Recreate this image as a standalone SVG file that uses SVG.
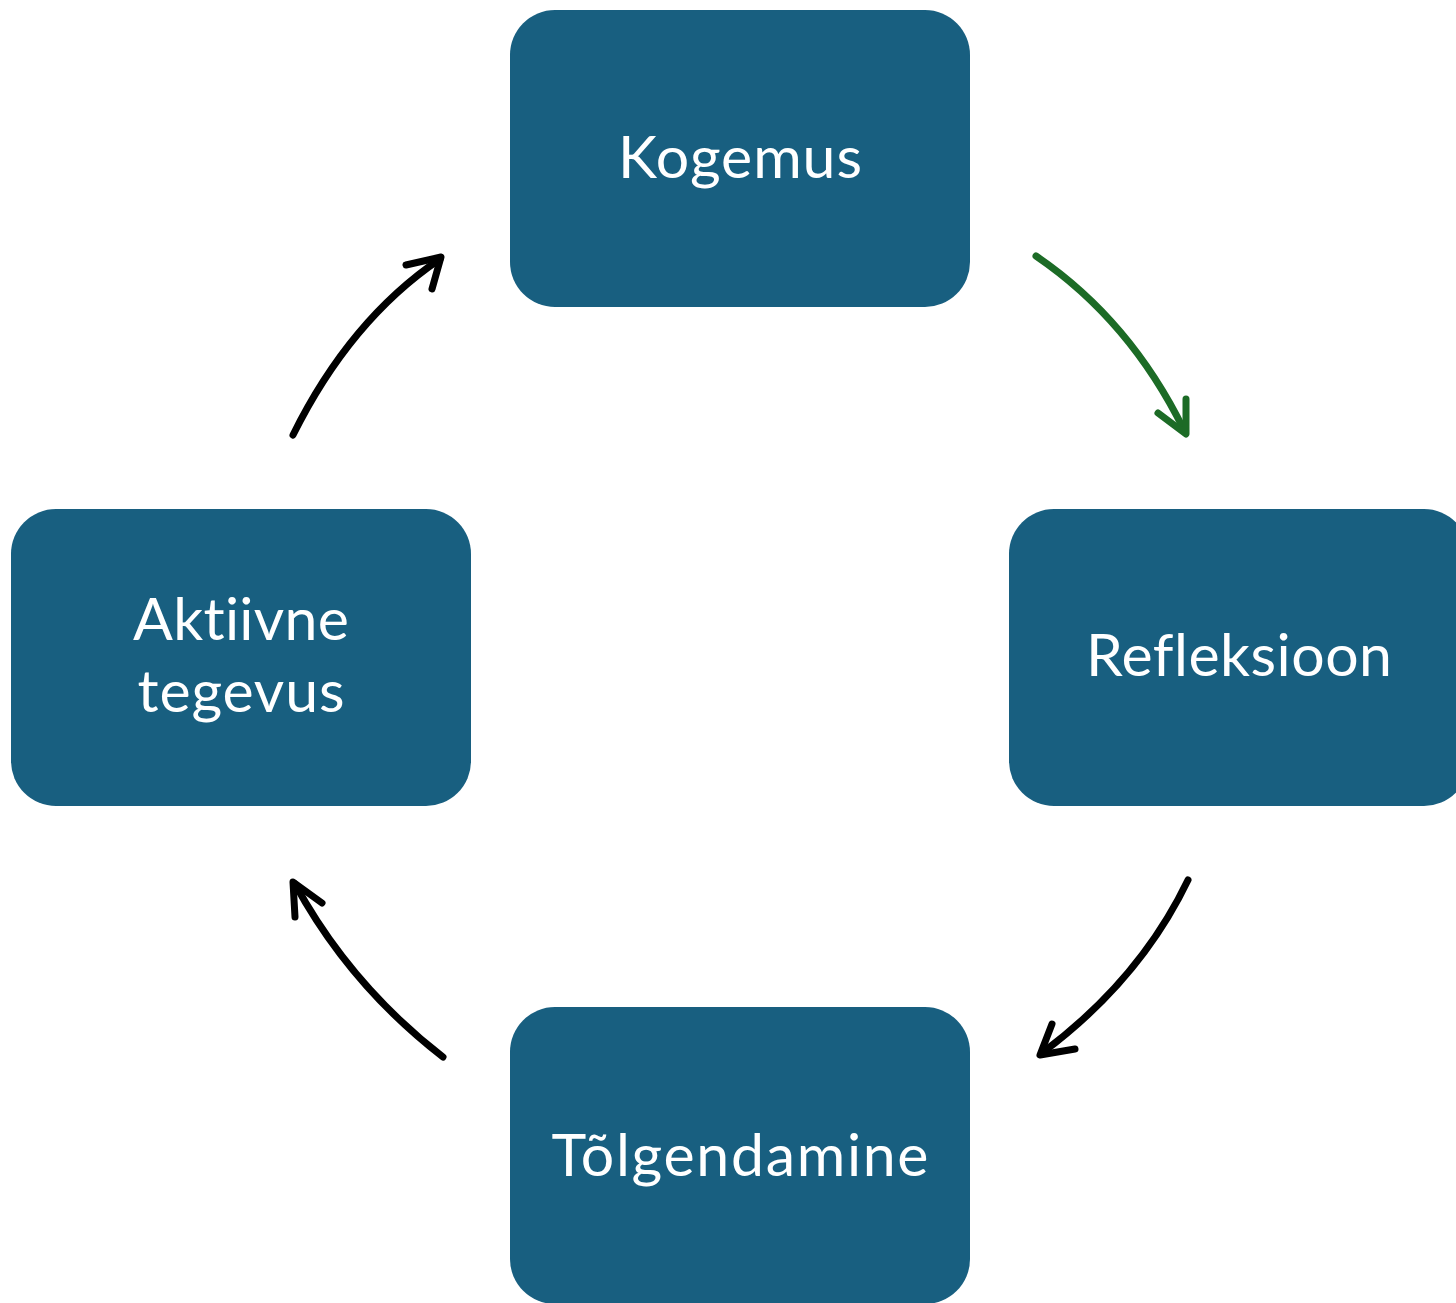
<svg xmlns="http://www.w3.org/2000/svg" width="1456" height="1303" viewBox="0 0 1456 1303">
<style>
.box{fill:#185F80}
.lbl{fill:#fff;font-family:Lato,"Open Sans",sans-serif;font-size:59px;text-anchor:middle;font-variant-ligatures:none;font-feature-settings:"liga" 0,"clig" 0,"dlig" 0}
.arr{fill:none;stroke:#000;stroke-width:7;stroke-linecap:round;stroke-linejoin:round}
.green{stroke:#1C6B26}
</style>
<rect width="1456" height="1303" fill="#fff"/>
<g id="kogemus"><rect class="box" x="510" y="10" width="460" height="297" rx="45"/><text class="lbl" x="740" y="178" textLength="244">Kogemus</text></g>
<g id="refleksioon"><rect class="box" x="1009" y="509" width="460" height="297" rx="45"/><text class="lbl" x="1239" y="676" textLength="306">Refleksioon</text></g>
<g id="tolgendamine"><rect class="box" x="510" y="1007" width="460" height="297" rx="45"/><text class="lbl" x="740" y="1176" textLength="377">Tõlgendamine</text></g>
<g id="aktiivne"><rect class="box" x="11" y="509" width="460" height="297" rx="45"/><text class="lbl" x="241" y="640" textLength="216">Aktiivne</text><text class="lbl" x="241" y="712" textLength="207">tegevus</text></g>
<g id="connectors">
<path class="arr green" d="M1036,256 Q1130,320 1184,430"/><polyline class="arr green" points="1158,413 1186,434 1186,399"/>
<path class="arr" d="M1188,880 Q1140,980 1042,1053"/><polyline class="arr" points="1052,1024 1040,1055 1075,1049"/>
<path class="arr" d="M443,1057 Q350,985 295,884"/><polyline class="arr" points="295,917 293,882 322,903"/>
<path class="arr" d="M293,435 Q350,320 440,259"/><polyline class="arr" points="406,265 441,257 432,289"/>
</g>
</svg>
